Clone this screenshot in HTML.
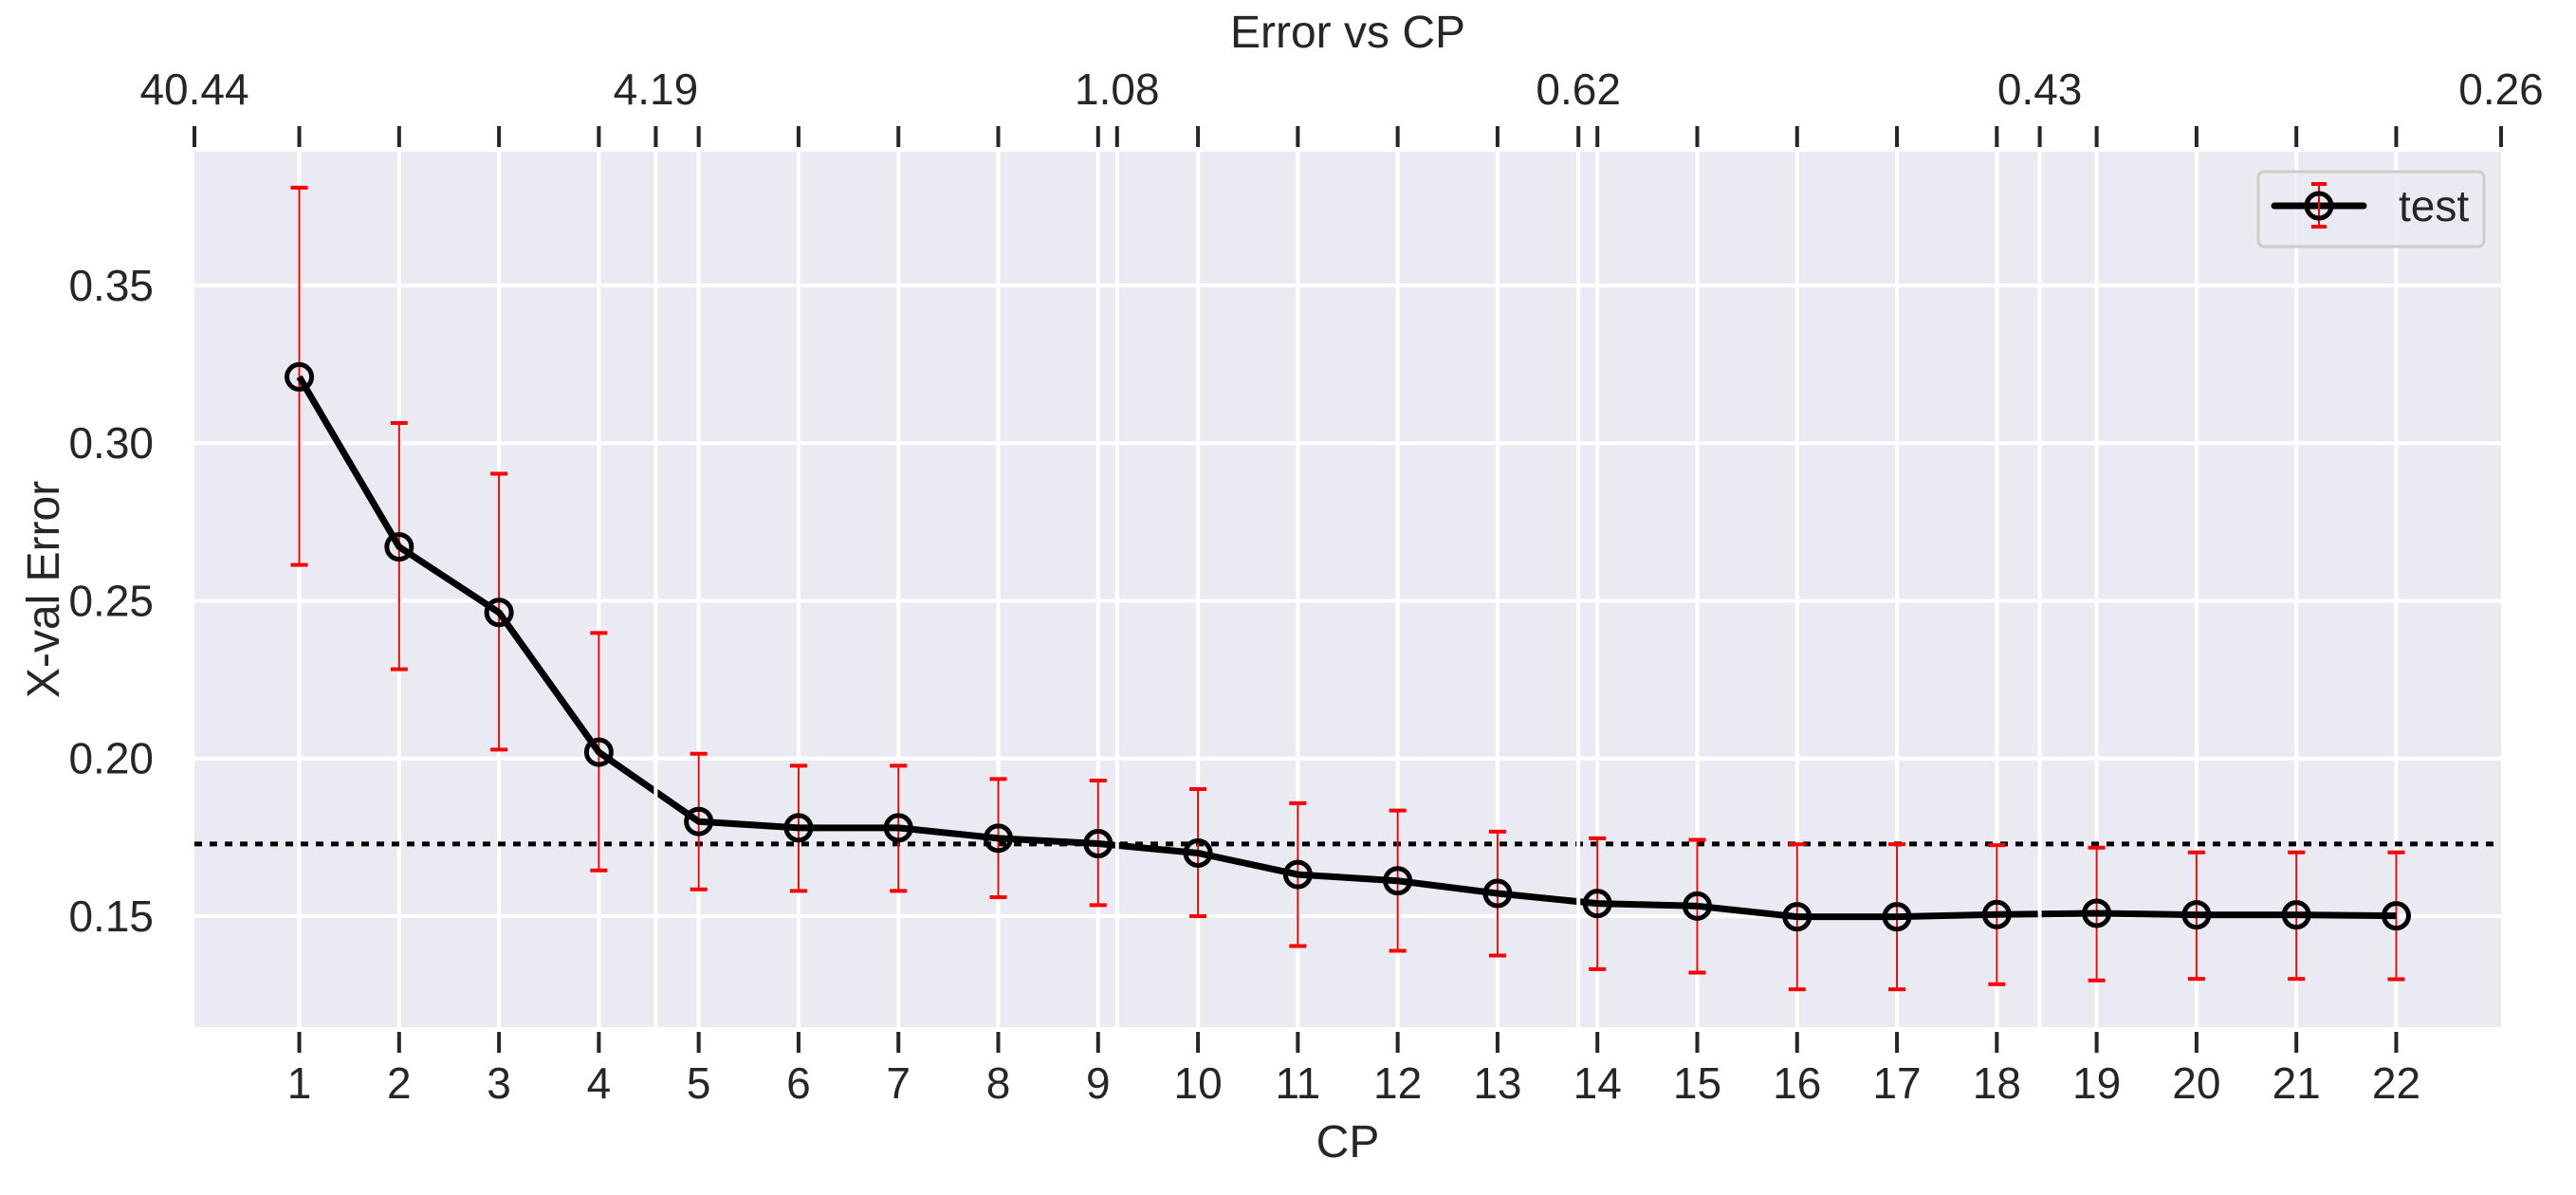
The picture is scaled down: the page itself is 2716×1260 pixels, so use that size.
<!DOCTYPE html>
<html><head><meta charset="utf-8"><style>
html,body{margin:0;padding:0;background:#fff;}
svg{display:block;font-family:"Liberation Sans",Arial,sans-serif;}
</style></head><body>
<svg id="chart" width="2716" height="1260" viewBox="0 0 2716 1260" xmlns="http://www.w3.org/2000/svg"></svg>
<script>
const cps = [1,2,3,4,5,6,7,8,9,10,11,12,13,14,15,16,17,18,19,20,21,22];
const errVals = [0.321,0.2671,0.2463,0.2020,0.1800,0.1780,0.1780,0.1747,0.1730,0.1700,0.1632,0.1612,0.1572,0.1540,0.1532,0.1498,0.1498,0.1505,0.1509,0.1504,0.1504,0.1501];
const errTop = [0.381,0.3064,0.2903,0.2398,0.2015,0.1977,0.1977,0.1935,0.1930,0.1903,0.1858,0.1835,0.1768,0.1747,0.1742,0.1728,0.1728,0.1725,0.1717,0.1702,0.1702,0.1702];
const errBot = [0.2614,0.2283,0.2028,0.1645,0.1585,0.1580,0.1580,0.1560,0.1535,0.1500,0.1405,0.1390,0.1375,0.1332,0.1321,0.1268,0.1268,0.1284,0.1296,0.1301,0.1301,0.1300];
const yTicks = [0.15,0.20,0.25,0.30,0.35];
const yTickLabels = ["0.15","0.20","0.25","0.30","0.35"];
const topTickPos = [-0.05,4.57,9.19,13.81,18.43,23.05];
const topTickLabels = ["40.44","4.19","1.08","0.62","0.43","0.26"];
const refLine = 0.1729;

const L=205,R=2637,T=160,B=1083;
const xMin=-0.05,xMax=23.05,yMin=0.1148,yMax=0.3924;
const X=v=>L+(v-xMin)/(xMax-xMin)*(R-L);
const Y=v=>B-(v-yMin)/(yMax-yMin)*(B-T);
const svg=document.getElementById('chart');
const NS='http://www.w3.org/2000/svg';
function mk(tag,attrs,parent){const e=document.createElementNS(NS,tag);for(const k in attrs)e.setAttribute(k,attrs[k]);(parent||svg).appendChild(e);return e;}

const bg=mk('rect',{x:L,y:T,width:R-L,height:B-T,fill:'#eaeaf2'});



yTicks.forEach((v,i)=>{
  const g=mk('line',{x1:L,x2:R,y1:Y(v),y2:Y(v),stroke:'#fff','stroke-width':4});
  
  
  const t=mk('text',{x:162,y:Y(v)+16,'font-size':46,fill:'#262626','text-anchor':'end'});
  t.textContent=yTickLabels[i];
  
  
});
cps.forEach(c=>{
  const g=mk('line',{x1:X(c),x2:X(c),y1:T,y2:B,stroke:'#fff','stroke-width':4});
  
  
  const tk=mk('line',{x1:X(c),x2:X(c),y1:B+5,y2:B+27,stroke:'#262626','stroke-width':4});
  
  
  const tt=mk('line',{x1:X(c),x2:X(c),y1:133,y2:155,stroke:'#262626','stroke-width':4});
  
  
  const t=mk('text',{x:X(c),y:1158,'font-size':46,fill:'#262626','text-anchor':'middle'});
  t.textContent=c;
  
  
});
const rl=mk('line',{x1:L,x2:R,y1:Y(refLine),y2:Y(refLine),stroke:'#000','stroke-width':5,'stroke-dasharray':'8 8'});


cps.forEach((c,i)=>{
  const x=X(c);
  const e=mk('line',{x1:x,x2:x,y1:Y(errTop[i]),y2:Y(errBot[i]),stroke:'#ff0000','stroke-width':2});
  
  
  [errTop[i],errBot[i]].forEach(v=>{
    const cap=mk('line',{x1:x-9,x2:x+9,y1:Y(v),y2:Y(v),stroke:'#ff0000','stroke-width':4});
    
    
  });
});
const pts=cps.map((c,i)=>X(c)+','+Y(errVals[i])).join(' ');
const pl=mk('polyline',{points:pts,fill:'none',stroke:'#000','stroke-width':7,'stroke-linejoin':'round'});


cps.forEach((c,i)=>{
  const m=mk('circle',{cx:X(c),cy:Y(errVals[i]),r:13,fill:'none',stroke:'#000','stroke-width':5});
  
  
});
topTickPos.forEach((p,i)=>{
  const x=X(p);
  if(i>0&&i<topTickPos.length-1){
    const g=mk('line',{x1:x,x2:x,y1:T,y2:B,stroke:'#fff','stroke-width':4});
    
    
  }
  const tk=mk('line',{x1:x,x2:x,y1:133,y2:155,stroke:'#262626','stroke-width':4});
  
  
  const t=mk('text',{x:x,y:110,'font-size':46,fill:'#262626','text-anchor':'middle'});
  t.textContent=topTickLabels[i];
  
  
});
const ttl=mk('text',{x:(L+R)/2,y:50,'font-size':48,fill:'#262626','text-anchor':'middle'});
ttl.textContent='Error vs CP';


const xl=mk('text',{x:(L+R)/2,y:1220,'font-size':48,fill:'#262626','text-anchor':'middle'});
xl.textContent='CP';


const yl=mk('text',{x:0,y:0,'font-size':48,fill:'#262626','text-anchor':'middle',transform:'translate(62,'+((T+B)/2)+') rotate(-90)'});
yl.textContent='X-val Error';


const lg=mk('g',{});


const lb=mk('rect',{x:2381,y:181,width:238,height:79,rx:6,fill:'#eaeaf2','fill-opacity':0.8,stroke:'#cccccc','stroke-width':3},lg);


const ll=mk('line',{x1:2398,x2:2492,y1:217,y2:217,stroke:'#000','stroke-width':7,'stroke-linecap':'round'},lg);


const le=mk('line',{x1:2445,x2:2445,y1:194,y2:239,stroke:'#ff0000','stroke-width':2},lg);


[194,239].forEach(y=>{
  const c=mk('line',{x1:2437,x2:2453,y1:y,y2:y,stroke:'#ff0000','stroke-width':4},lg);
  
  
});
const lm=mk('circle',{cx:2445,cy:217,r:13,fill:'none',stroke:'#000','stroke-width':5},lg);


const lt=mk('text',{x:2529,y:233,'font-size':46,fill:'#262626'},lg);
lt.textContent='test';


</script>
</body></html>
